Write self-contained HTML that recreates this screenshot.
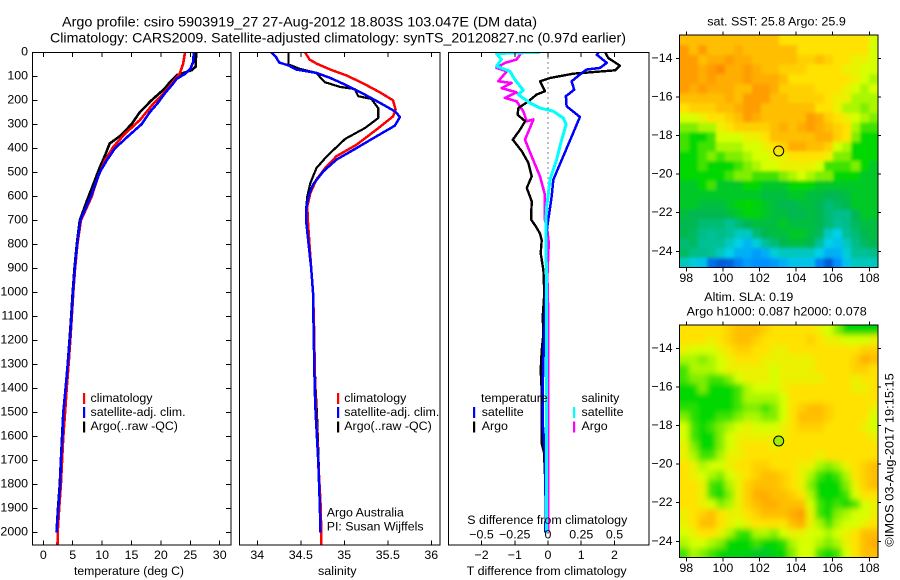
<!DOCTYPE html>
<html lang="en">
<head>
<meta charset="utf-8">
<title>Argo profile csiro 5903919_27</title>
<style>
html,body{margin:0;padding:0;background:#fff;}
body{width:900px;height:580px;overflow:hidden;}
svg{display:block;font-family:"Liberation Sans",sans-serif;font-size:12.4px;fill:#000;}
text{fill:#000;}
</style>
</head>
<body>
<svg id="chart" xmlns="http://www.w3.org/2000/svg" width="900" height="580" viewBox="0 0 900 580">
  <defs>
    <clipPath id="clipP1"><rect x="32.5" y="52.5" width="198.5" height="492.5"/></clipPath>
    <clipPath id="clipP2"><rect x="239.5" y="52.5" width="200.5" height="492.5"/></clipPath>
    <clipPath id="clipP3"><rect x="448.5" y="52.5" width="200.5" height="492.5"/></clipPath>
    <clipPath id="clipM1"><rect x="680" y="35.5" width="198" height="232"/></clipPath>
    <clipPath id="clipM2"><rect x="680" y="325.5" width="198" height="232"/></clipPath>
    <filter id="blurM1" filterUnits="userSpaceOnUse" x="640" y="0" width="280" height="300"><feGaussianBlur stdDeviation="1.5"/></filter>
    <filter id="blurM2" filterUnits="userSpaceOnUse" x="640" y="290" width="280" height="300"><feGaussianBlur stdDeviation="3"/></filter>
  </defs>
  <rect x="0" y="0" width="900" height="580" fill="#fff"/>

  <text x="62" y="26.5" font-size="14" textLength="475" lengthAdjust="spacingAndGlyphs">Argo profile: csiro 5903919_27 27-Aug-2012 18.803S 103.047E (DM data)</text>
  <text x="50" y="42.5" font-size="14" textLength="576" lengthAdjust="spacingAndGlyphs">Climatology: CARS2009. Satellite-adjusted climatology: synTS_20120827.nc (0.97d earlier)</text>

  <g id="p1"></g>
  <g id="p2"></g>
  <g id="p3"></g>
  <g id="m1"></g>
  <g id="m2"></g>

  <text x="74" y="575" textLength="110" lengthAdjust="spacingAndGlyphs">temperature (deg C)</text>
  <text x="318" y="575" textLength="38.5" lengthAdjust="spacingAndGlyphs">salinity</text>
  <text x="466.7" y="575" textLength="160" lengthAdjust="spacingAndGlyphs">T difference from climatology</text>
  <text x="467.3" y="524" textLength="160" lengthAdjust="spacingAndGlyphs">S difference from climatology</text>

  <g>
    <rect x="83" y="393" width="2.2" height="11" fill="#ff0000"/>
    <rect x="83" y="407" width="2.2" height="11" fill="#0000ff"/>
    <rect x="83" y="421.5" width="2.2" height="11" fill="#000"/>
    <text x="90.5" y="402">climatology</text>
    <text x="90.5" y="416">satellite-adj. clim.</text>
    <text x="90.5" y="430">Argo(..raw -QC)</text>
  </g>
  <g>
    <rect x="337" y="393" width="2.2" height="11" fill="#ff0000"/>
    <rect x="337" y="407" width="2.2" height="11" fill="#0000ff"/>
    <rect x="337" y="421.5" width="2.2" height="11" fill="#000"/>
    <text x="344.3" y="402">climatology</text>
    <text x="344.3" y="416">satellite-adj. clim.</text>
    <text x="344.3" y="430">Argo(..raw -QC)</text>
  </g>
  <text x="326.7" y="516.7">Argo Australia</text>
  <text x="326.7" y="530.7">PI: Susan Wijffels</text>
  <g>
    <text x="481" y="402">temperature</text>
    <text x="581.5" y="402">salinity</text>
    <rect x="473" y="407" width="2.2" height="11" fill="#0000ff"/>
    <rect x="473" y="421.5" width="2.2" height="11" fill="#000"/>
    <rect x="573" y="407" width="2.2" height="11" fill="#00ffff"/>
    <rect x="573" y="421.5" width="2.2" height="11" fill="#ff00ff"/>
    <text x="481.7" y="416">satellite</text>
    <text x="481.7" y="430">Argo</text>
    <text x="581.5" y="416">satellite</text>
    <text x="581.5" y="430">Argo</text>
  </g>

  <text x="707.3" y="25.3" textLength="138.5" lengthAdjust="spacingAndGlyphs">sat. SST: 25.8 Argo: 25.9</text>
  <text x="704.3" y="301" textLength="89" lengthAdjust="spacingAndGlyphs">Altim. SLA: 0.19</text>
  <text x="686.7" y="315.3" textLength="180" lengthAdjust="spacingAndGlyphs">Argo h1000: 0.087 h2000: 0.078</text>
  <text transform="translate(893.5,546.7) rotate(-90)" textLength="173.5" lengthAdjust="spacingAndGlyphs">©IMOS 03-Aug-2017 19:15:15</text>
</svg>

<script>
/* ---------- profile data (depth in dbar) ---------- */
const depthTicks = [0,100,200,300,400,500,600,700,800,900,1000,1100,1200,1300,1400,1500,1600,1700,1800,1900,2000];
const tempTicks = [0,5,10,15,20,25,30];
const salTicks = [34,34.5,35,35.5,36];
const salTickLabels = ["34","34.5","35","35.5","36"];
const tDiffTicks = [-2,-1,0,1,2];
const tDiffTickLabels = ["\u22122","\u22121","0","1","2"];
const sDiffTicks = [-0.5,-0.25,0,0.25,0.5];
const sDiffTickLabels = ["\u22120.5","\u22120.25","0","0.25","0.5"];

const climTempDepth = [0,47,89,131,172,214,283,339,394,450,520,603,700,800,900,1000,1100,1200,1300,1400,1500,1600,1700,1800,1900,2000,2054];
const climTemp = [24.1,23.8,23.2,21.8,20.4,18.7,16.4,13.9,11.9,10.5,9.3,8.2,6.4,5.8,5.4,5.1,4.85,4.6,4.3,3.98,3.7,3.4,3.2,3.0,2.7,2.45,2.42];
const satTempDepth = [0,40,70,90,110,130,170,210,250,300,350,400,450,500,600,700,800,900,1000,1100,1200,1300,1400,1500,1600,1700,1800,1900,2000];
const satTemp = [25.6,25.5,25,24.1,22.7,22.1,20.7,19.5,18.1,16.7,14.4,12.2,10.8,9.6,8.1,6.3,5.75,5.35,5.05,4.8,4.5,4.15,3.8,3.4,3.25,3.0,2.85,2.55,2.25];
const argoTempDepth = [0,60,75,95,125,150,200,250,300,350,380,430,480,550,620,700,800,900,1000,1100,1200,1300,1400,1500,1600,1700,1800,1900,2000];
const argoTemp = [26,25.9,25.2,22.7,21.5,20.7,18.4,16.4,15,13,11.3,10.5,9.6,8.5,7.4,6.2,5.7,5.3,5.0,4.75,4.45,4.15,3.85,3.4,3.2,3.0,2.8,2.5,2.25];

const climSalDepth = [0,30,47,72,97,130,167,200,239,267,322,385,433,482,530,586,642,697,800,900,1000,1100,1200,1300,1400,1500,1600,1700,1800,1900,2000,2054];
const climSal = [34.55,34.6,34.68,34.84,35.03,35.22,35.41,35.56,35.59,35.56,35.37,35.14,34.91,34.78,34.68,34.61,34.575,34.58,34.6,34.62,34.64,34.65,34.655,34.66,34.665,34.675,34.69,34.7,34.715,34.73,34.735,34.735];
const satSalDepth = [0,17,42,55,72,86,107,135,169,211,246,269,306,350,399,447,496,551,600,656,697,800,900,1000,1100,1200,1300,1400,1500,1600,1700,1800,1900,2000];
const satSal = [34.16,34.21,34.25,34.36,34.45,34.68,34.84,35.01,35.2,35.41,35.58,35.64,35.58,35.37,35.14,34.91,34.76,34.64,34.59,34.56,34.56,34.59,34.62,34.64,34.645,34.65,34.655,34.66,34.67,34.685,34.7,34.71,34.72,34.725];
const argoSalDepth = [0,51,69,86,103,125,144,153,183,194,232,274,315,361,433,482,544,600,656,697,800,900,1000,1100,1200,1300,1400,1500,1600,1700,1800,1900,2000];
const argoSal = [34.36,34.36,34.49,34.68,34.72,34.78,34.95,35.12,35.16,35.31,35.39,35.39,35.24,35.01,34.8,34.68,34.61,34.575,34.56,34.56,34.59,34.62,34.64,34.65,34.655,34.66,34.67,34.685,34.695,34.705,34.715,34.725,34.73];

const satDiffTDepth = [0,10,44,65,72,93,121,156,183,225,269,336,433,531,600,697,740,838,935,1046,1172,1283,1408,1546,1670,1783,1910,2000];
const satDiffT = [1.52,1.47,1.77,1.57,1.16,0.96,0.71,0.79,0.54,0.56,0.96,0.76,0.46,0.16,0.11,0.01,-0.04,-0.06,-0.06,-0.08,-0.11,-0.14,-0.16,-0.16,-0.09,-0.09,-0.06,-0.09];
const argoDiffTDepth = [0,24,56,75,89,107,121,162,176,204,232,260,287,322,364,412,461,517,565,621,697,721,755,783,838,908,1005,1103,1172,1242,1325,1408,1506,1630,1667,1854,1992];
const argoDiffT = [1.72,1.82,2.17,2.02,0.76,0.06,-0.24,-0.09,-0.34,-0.59,-0.89,-0.92,-0.69,-0.84,-1.06,-0.79,-0.59,-0.49,-0.64,-0.49,-0.51,-0.39,-0.24,-0.19,-0.22,-0.14,-0.11,-0.16,-0.14,-0.19,-0.22,-0.19,-0.19,-0.19,-0.12,-0.06,-0.06];
const satDiffSDepth = [0,5,30,58,79,114,158,176,211,232,246,274,301,364,447,531,642,697,800,1000,1400,1800,1990,2000];
const satDiffS = [-0.06,-0.387,-0.35,-0.387,-0.286,-0.249,-0.186,-0.224,-0.136,-0.06,0.04,0.116,0.136,0.103,0.065,0.015,-0.01,-0.015,-0.015,-0.01,-0.01,-0.01,-0.01,0];
const argoDiffSDepth = [0,30,44,65,79,121,128,149,167,190,204,246,287,280,364,433,517,593,697,740,795,935,1050,1400,2000];
const argoDiffS = [-0.198,-0.236,-0.324,-0.387,-0.31,-0.374,-0.274,-0.349,-0.236,-0.324,-0.236,-0.186,-0.16,-0.11,-0.173,-0.123,-0.06,-0.023,-0.023,-0.005,0.005,-0.005,0,0,0];

/* ---------- map data: colour-scale value per cell, rows north to south ---------- */
const mapLonTicks = [98,100,102,104,106,108];
const mapLatTicks = [-14,-16,-18,-20,-22,-24];
const argoLon = 103.047;
const argoLat = -18.803;
const sstGrid = [
[9,9,9,9,9,9,9,9,9,9,9,8,8,8,8,8,8,8,8,8,8,7],
[10,9,10,9,9,9,9.5,9,9,9,9,9,9,8,8,8,8,8,8,8,8,7],
[10,10,9,9.5,9.5,10,9.5,9.5,9,9,9,9,9,8.5,8.5,9,8.5,8,8,7.5,7.5,7],
[10,10,9.5,10,10.5,9.5,9.5,10,9.5,9,9,8.5,8.5,8.5,8,8,8,8,7.5,7.5,7,7],
[10,10,9.5,10,9.5,9.5,9.5,10,9.5,9.5,9.5,9,8,8,8,8,8,8,8,7.5,7,6.5],
[10,9.5,10,9.5,9.5,9.5,9,9,10,10,9.5,8.5,8.5,8.5,8.5,8,8,8,7.5,7,6.5,7],
[9,9,9,9,9,9.5,9,10,10,10,9,9,8.5,8.5,8.5,8.5,8,7.5,7.5,6.5,6.5,6.5],
[8,8.5,8.5,8.5,9,9,9.5,10,10,9,9,9,9,9,9,8,8,7.5,6.5,6.5,6,6.5],
[7,7,7.5,8,8,8.5,9,10,9.5,9,9,9,9,9,10,9.5,8.5,8,7.5,7,6.5,6],
[6,6,6.5,6.5,7.5,8,8.5,8.5,8.5,8.5,9,9.5,9,9.5,10,9.5,9,8.5,8,6.5,5.5,5.5],
[5.5,5,5,5.5,7,7,7,7.5,7.5,8,9,9,9,9,9,9.5,9.5,8.5,8,6,5,5],
[5.5,5,5.5,5.5,6.5,6.5,6.5,7,7,7.5,8,8.5,9.5,9.5,9,9,8.5,7,6.5,5,5,5],
[5,5,5.5,6,5.5,6,6,6.5,7,7,7.5,7.5,8,8,8,8,7.5,6,6,5,5,5],
[5,5,5.5,5,5,5,5.5,6,6.5,7,7,7.5,7.5,7.5,7.5,7,5.5,5.5,5.5,6,5,4.5],
[5,5,5,5,5,5.5,6,6,5.5,5.5,5.5,6,6.5,7,6.5,6,6,5,5,5,4.5,4.5],
[4.5,4.5,5,5.5,4.5,4.5,4.5,5,5,4.5,4.5,4.5,5,5,5,4.5,4.5,4.5,4.5,4.5,4.5,4.5],
[4.5,4.5,4.5,4.5,4.5,4.5,4.5,4.5,4.5,4.2,4.2,4.2,4.5,4.5,4.2,4.2,4,4,4.2,4.5,4.5,4.5],
[4.5,4.5,4.2,4.2,4.2,4.5,4.8,5,4.8,4.5,4.2,4,4,4.2,4.2,4,3.5,3.8,4,4.5,4.5,4.5],
[4.2,4,4,4,4,4.2,4.5,4.8,4.8,4.5,4.2,4.2,4,4,4.2,4,3.5,3.2,3.2,4,4.5,4.5],
[4,4,3.5,3.5,3.5,3,3.5,4,4.2,4.2,4.2,4.5,4.2,4.2,4.2,4,3.5,3,3.2,3.8,4.2,4.2],
[4,3.8,3.2,3,3.2,3,2.5,2.5,3.5,4,4.2,4.2,4.5,4.5,4.2,3.8,2.5,2,3,3.5,4,4.2],
[3.5,3.8,3,3,3,2.5,2,1.6,2.2,3,3.5,4,4.2,4.2,4,3,2,1.8,2.5,3.2,3.8,4],
[3.8,3.2,3.2,3,2.5,2,1.5,1.5,1.2,1.5,2.2,2.5,2.5,2.5,2.5,2,1.5,1.5,2.2,3,3,3.2],
[2.5,2.2,1.8,0.5,0.2,0.3,0.8,1.2,1,1,1.2,1.5,1.8,1.8,1.8,0.8,0.2,1,1.8,2.5,2.5,2.5]
];
const slaGrid = [
[8,8,8,8,8,8.5,9,9,9,8.5,8,8,8,8,8,7.5,7,6,5,5,5,5],
[8,8,8,7.5,8,8.5,9,9,8.5,8,8,8,8,8,8.5,8,7.5,7.5,7,7,7,7.5],
[7.5,7,7,7,7.5,8,8.5,8.5,8,8,7.5,7.5,8,8,8,8,8,8,8,8,8.5,8.5],
[6.5,6.5,6,6.5,7,7.5,8,8,8,7.5,7.5,7.5,7.5,7.5,7.5,8,8,8,8,8.5,9.5,9],
[5.5,6.5,6.5,6.5,7,7.5,7.5,7.5,7.5,7.5,7,7.5,7.5,7.5,7.5,8,8,8,8,8.5,8.5,8],
[5.5,6,6,5.5,5.5,6,7,7.5,7.5,7.5,7,7.5,7.5,7.5,7.5,7.5,8,8,8,7.5,8,8],
[5,5,6,5,5,5,5.5,6.5,7,7,7,7.5,8,8,8,8,8,8,8,7.5,7.5,8],
[5,5,5,5,5,5,5.5,6.5,6.5,6.5,6.5,7,8,8,8,8,8,8,8,8,8,8],
[5.3,5.3,5,5,5,5,5.5,6,6,5.5,6,7,8,8.5,9,9,8.5,8,8,8,8,7.5],
[6,5.3,5,5,5.5,5.5,6,6.5,6.5,6,6,7,8,9,9,9,8.5,8,8,8,8,7],
[7,5.5,5,5.5,6,6.5,7,7.5,7,7,7,7.5,8,8.5,8.5,8.5,8,8,8,8,7.5,7],
[7,5.5,5,5,6,7,7.5,7.5,7.5,7.5,7.5,7.5,8,8,8,8,8,8,8,8,8,7.5],
[7.5,6,5,5,6,7,7.5,8,8,8,7.5,8,8,8,8,8,8,8,8,8,8,8],
[7.5,6.5,5.5,5.5,6.5,7.5,7.5,8,8,8,8,8,8,8,8,7.5,8,8,8,8,8,8],
[8,7.5,6.5,7,7,7.5,8,8,8.5,8.5,8,8,8,7.5,7.5,6.5,6,6.5,7.5,8,8.5,9],
[8,7.5,7,6.5,6,7,7.5,8,8.5,9,9,8.5,8,7.5,6.5,5.5,5,5.5,6.5,8,8.5,9],
[8,8,7.5,5.5,5.3,6.5,7.5,8.5,9,9,9,8.5,8,7.5,6,5,5,5,6,7.5,8.5,9],
[8,8,7.5,5.5,5,6,7.5,8.5,9.5,9.5,9,9,8.5,8,6.5,5,5,5,5.5,7,8,8],
[8,8,7.5,7,6,6.5,7.5,8.5,9,9.5,9.5,9,9,9,7,5.5,5,5.5,5,5.5,7,7.5],
[7.5,8,8.5,9,8,7.5,7.5,8,8.5,9,9,9,9.5,10,7.5,5.5,5,6,6.5,7,7,7.5],
[7.5,8,9,9,8,7.5,7,7.5,8,8,8,8,9,9.5,7.5,6.5,5.5,6.5,7,7,7.5,8],
[7,7.5,8,8,7.5,6.5,5.5,5.3,6.5,6.5,6,7,7.5,7.5,7,7,6.5,7,7.5,8,9,9],
[6.5,7,7,6.5,6,5,5,5,5.5,5,5,5.3,6.5,7,7,6.5,6,6.5,7.5,8,9,9.5],
[5.5,6.5,6,5.5,5,4.8,4.8,4.8,4.5,4.5,4.8,5,6,7,7,5.5,5,5.5,7,8,9,9]
];

/* ---------- axis functions ---------- */
const yDepth = d => 52.3 + d * 0.24;
const xTemp = t => 43.3 + t * 5.88;
const xSal = s => 257.3 + (s - 34) * 87;
const xDiffT = t => 548 + t * 33.2;
const xDiffS = s => 548 + s * 133;
const xLon = lon => 686.3 + (lon - 98) * 18.3;
const yLatTop = lat => 58.3 + (-14 - lat) * 19.3;
const yLatBottom = lat => 348.3 + (-14 - lat) * 19.3;

const NS = "http://www.w3.org/2000/svg";
function mk(parent, tag, attrs, text) {
  const el = document.createElementNS(NS, tag);
  for (const k in attrs) el.setAttribute(k, attrs[k]);
  if (text !== undefined) el.textContent = text;
  parent.appendChild(el);
  return el;
}

function tickLine(parent, x1, y1, x2, y2) {
  const el = mk(parent, "line", {x1: x1, y1: y1, x2: x2, y2: y2, stroke: "#000", "stroke-width": 1, "shape-rendering": "crispEdges"});
  
  
  return el;
}

function tickLabel(parent, x, y, anchor, str) {
  const el = mk(parent, "text", {x: x, y: y, "text-anchor": anchor}, str);
  
  
  return el;
}

function frame(parent, x, y, w, h) {
  const el = mk(parent, "rect", {x: x, y: y, width: w, height: h, fill: "none", stroke: "#000", "stroke-width": 1.4, "shape-rendering": "crispEdges"});
  
  
  return el;
}

function seriesLine(parent, clipId, name, color, width, depths, values, xFn) {
  const pts = depths.map((d, i) => xFn(values[i]).toFixed(1) + "," + yDepth(d).toFixed(1)).join(" ");
  const el = mk(parent, "polyline", {points: pts, fill: "none", stroke: color, "stroke-width": width, "stroke-linejoin": "round", "clip-path": "url(#" + clipId + ")", "shape-rendering": "crispEdges"});
  
  
  return el;
}

/* ---------- temperature panel ---------- */
const p1 = document.getElementById("p1");
seriesLine(p1, "clipP1", "argo-temperature-line", "#000", 2.6, argoTempDepth, argoTemp, xTemp);
seriesLine(p1, "clipP1", "climatology-temperature-line", "#ff0000", 2.6, climTempDepth, climTemp, xTemp);
seriesLine(p1, "clipP1", "satellite-temperature-line", "#0000ff", 2.6, satTempDepth, satTemp, xTemp);
frame(p1, 32.5, 52.5, 198.5, 492.5);
depthTicks.forEach(d => {
  const y = yDepth(d);
  tickLine(p1, 32.5, y, 37.5, y);
  tickLine(p1, 231, y, 226, y);
  tickLabel(p1, 28, y + 3.2, "end", String(d));
});
tempTicks.forEach(t => {
  const x = xTemp(t);
  tickLine(p1, x, 52.5, x, 57);
  tickLine(p1, x, 545, x, 540.5);
  tickLabel(p1, x, 559, "middle", String(t));
});

/* ---------- salinity panel ---------- */
const p2 = document.getElementById("p2");
seriesLine(p2, "clipP2", "argo-salinity-line", "#000", 2.2, argoSalDepth, argoSal, xSal);
seriesLine(p2, "clipP2", "climatology-salinity-line", "#ff0000", 2.5, climSalDepth, climSal, xSal);
seriesLine(p2, "clipP2", "satellite-salinity-line", "#0000ff", 2.5, satSalDepth, satSal, xSal);
frame(p2, 239.5, 52.5, 200.5, 492.5);
salTicks.forEach((s, i) => {
  const x = xSal(s);
  tickLine(p2, x, 52.5, x, 57);
  tickLine(p2, x, 545, x, 540.5);
  tickLabel(p2, x, 559, "middle", salTickLabels[i]);
});

/* ---------- difference panel ---------- */
const p3 = document.getElementById("p3");
const zeroLine = mk(p3, "line", {x1: xDiffT(0), y1: 52.5, x2: xDiffT(0), y2: 545, stroke: "#000", "stroke-width": 1, "stroke-dasharray": "1 4", "shape-rendering": "crispEdges"});


seriesLine(p3, "clipP3", "argo-salinity-difference-line", "#ff00ff", 2.6, argoDiffSDepth, argoDiffS, xDiffS);
seriesLine(p3, "clipP3", "argo-temperature-difference-line", "#000", 2.4, argoDiffTDepth, argoDiffT, xDiffT);
seriesLine(p3, "clipP3", "satellite-temperature-difference-line", "#0000ff", 2.5, satDiffTDepth, satDiffT, xDiffT);
seriesLine(p3, "clipP3", "satellite-salinity-difference-line", "#00ffff", 3, satDiffSDepth, satDiffS, xDiffS);
frame(p3, 448.5, 52.5, 200.5, 492.5);
tDiffTicks.forEach((t, i) => {
  const x = xDiffT(t);
  tickLine(p3, x, 52.5, x, 57);
  tickLine(p3, x, 545, x, 540.5);
  tickLabel(p3, x, 559, "middle", tDiffTickLabels[i]);
});
sDiffTicks.forEach((s, i) => {
  tickLabel(p3, xDiffS(s), 538.3, "middle", sDiffTickLabels[i]);
});

/* ---------- maps ---------- */
const scaleStops = [[0,0,80,208],[1,0,144,255],[2,0,208,232],[3,0,192,150],[4,0,184,80],[5,0,216,0],[6,128,238,0],[7,214,255,0],[8,255,226,0],[9,255,190,0],[10,255,156,0],[11,255,120,0]];
function scaleColor(v) {
  const c = Math.max(0, Math.min(10.99, v));
  const i = Math.floor(c);
  const f = c - i;
  const a = scaleStops[i], b = scaleStops[i + 1];
  return "rgb(" + Math.round(a[1] + (b[1] - a[1]) * f) + "," + Math.round(a[2] + (b[2] - a[2]) * f) + "," + Math.round(a[3] + (b[3] - a[3]) * f) + ")";
}

function drawMap(parent, grid, top, clipId, filterId, yLat, markerFill) {
  const left = 680, w = 198, h = 232;
  const rows = grid.length, cols = grid[0].length;
  const cw = w / cols, ch = h / rows;
  const clipG = mk(parent, "g", {"clip-path": "url(#" + clipId + ")"});
  const cells = mk(clipG, "g", {filter: "url(#" + filterId + ")"});
  grid.forEach((row, j) => row.forEach((v, i) => {
    const pad = 14;
    const x = left + i * cw - (i === 0 ? pad : 0);
    const y = top + j * ch - (j === 0 ? pad : 0);
    const cell = mk(cells, "rect", {
      x: x.toFixed(2), y: y.toFixed(2),
      width: (cw + 0.6 + (i === 0 || i === cols - 1 ? pad : 0)).toFixed(2),
      height: (ch + 0.6 + (j === 0 || j === rows - 1 ? pad : 0)).toFixed(2),
      fill: scaleColor(v), "shape-rendering": "crispEdges"
    });
    
    
  }));
  frame(parent, left - 0.5, top - 0.5, w + 0.5, h + 0.5);
  mapLonTicks.forEach(lon => {
    const x = xLon(lon);
    tickLine(parent, x, top - 4, x, top);
    tickLine(parent, x, top + h, x, top + h + 4);
    tickLabel(parent, x, top + h + 14.7, "middle", String(lon));
  });
  mapLatTicks.forEach(lat => {
    const y = yLat(lat);
    tickLine(parent, left - 4, y, left, y);
    tickLine(parent, left + w, y, left + w + 3, y);
    tickLabel(parent, 672.5, y + 3.5, "end", "\u2212" + Math.abs(lat));
  });
  const marker = mk(parent, "circle", {cx: xLon(argoLon).toFixed(1), cy: yLat(argoLat).toFixed(1), r: 5, fill: markerFill, stroke: "#000", "stroke-width": 1});
  
  
}

drawMap(document.getElementById("m1"), sstGrid, 35.5, "clipM1", "blurM1", yLatTop, "none");
drawMap(document.getElementById("m2"), slaGrid, 325.5, "clipM2", "blurM2", yLatBottom, "#9fee00");
</script>
</body>
</html>
